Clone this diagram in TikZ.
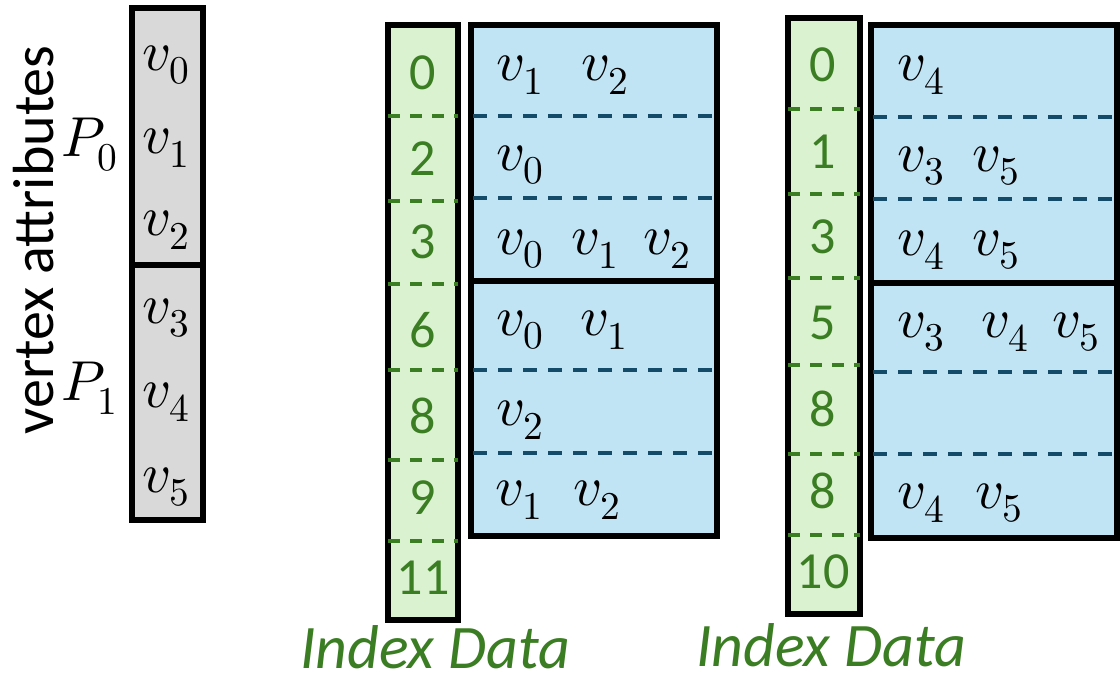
\documentclass[tikz,border=0pt]{standalone}
\usepackage{fontspec}
\usepackage{unicode-math}
\setmainfont{Carlito}
\usepackage{tikz}

\definecolor{cinza}{HTML}{D9D9D9}
\definecolor{verdeF}{HTML}{DAF2D0}
\definecolor{verdeT}{HTML}{3B7D23}
\definecolor{azulF}{HTML}{C1E4F5}
\definecolor{azulT}{HTML}{144B69}

\begin{document}
\begin{tikzpicture}[x=0.01cm, y=-0.01cm]
\tikzset{ inner sep=0pt, outer sep=0pt,
  caixa/.style={draw=black, line width=1.7pt},
  vv/.style={font=\fontsize{16}{18}\selectfont},
  num/.style={text=verdeT, font=\fontsize{14.8}{16}\selectfont},
  tracoV/.style={verdeT, line width=1.3pt, dash pattern=on 0.12cm off 0.1cm},
  tracoA/.style={azulT, line width=1.3pt, dash pattern=on 0.14cm off 0.11cm},
  rotulo/.style={text=verdeT, font=\itshape\fontsize{17.6}{19}\selectfont},
}

\useasboundingbox (0,0) rectangle (1120,676);

% atributos dos vertices
\draw [caixa, fill=cinza] (132,8)   rectangle (203,265);
\draw [caixa, fill=cinza] (132,265) rectangle (203,520);

\node [vv] (A0) at (167,65)  {$v_0$};
\node [vv] (A1) at (167,148) {$v_1$};
\node [vv] (A2) at (167,230) {$v_2$};
\node [vv] (A3) at (167,318) {$v_3$};
\node [vv] (A4) at (167,402) {$v_4$};
\node [vv] (A5) at (167,487) {$v_5$};

\node [vv] (P0) at (90,145) {$P_0$};
\node [vv] (P1) at (90,388) {$P_1$};

\node [rotate=90, font=\fontsize{16.5}{18}\selectfont] (VA) at (34,240) {vertex attributes};

% indice 1
\draw [caixa, fill=verdeF] (388,25) rectangle (458,620);
\draw [tracoV] (388,116) -- (458,116);
\draw [tracoV] (388,201) -- (458,201);
\draw [tracoV] (388,284) -- (458,284);
\draw [tracoV] (388,370) -- (458,370);
\draw [tracoV] (388,460) -- (458,460);
\draw [tracoV] (388,541) -- (458,541);

\node [num] (I10) at (423,73)  {0};
\node [num] (I11) at (423,159) {2};
\node [num] (I12) at (423,242) {3};
\node [num] (I13) at (423,330) {6};
\node [num] (I14) at (423,416) {8};
\node [num] (I15) at (423,498) {9};
\node [num] (I16) at (423,578) {11};

% dados 1
\draw [caixa, fill=azulF] (471,25)  rectangle (717,281);
\draw [caixa, fill=azulF] (471,281) rectangle (717,536);
\draw [tracoA] (473,116) -- (717,116);
\draw [tracoA] (473,198) -- (717,198);
\draw [tracoA] (473,370) -- (717,370);
\draw [tracoA] (473,453) -- (717,453);

\node [vv] (D10) at (521,75)  {$v_1$};
\node [vv] (D11) at (606,75)  {$v_2$};
\node [vv] (D12) at (521,165) {$v_0$};
\node [vv] (D13) at (521,249) {$v_0$};
\node [vv] (D14) at (596,249) {$v_1$};
\node [vv] (D15) at (668,249) {$v_2$};
\node [vv] (D16) at (521,330) {$v_0$};
\node [vv] (D17) at (605,330) {$v_1$};
\node [vv] (D18) at (521,420) {$v_2$};
\node [vv] (D19) at (520,500) {$v_1$};
\node [vv] (D1a) at (598,500) {$v_2$};

% indice 2
\draw [caixa, fill=verdeF] (788,18) rectangle (860,614);
\draw [tracoV] (788,109) -- (860,109);
\draw [tracoV] (788,194) -- (860,194);
\draw [tracoV] (788,278) -- (860,278);
\draw [tracoV] (788,365) -- (860,365);
\draw [tracoV] (788,454) -- (860,454);
\draw [tracoV] (788,535) -- (860,535);

\node [num] (I20) at (823,65)  {0};
\node [num] (I21) at (823,152) {1};
\node [num] (I22) at (823,237) {3};
\node [num] (I23) at (823,323) {5};
\node [num] (I24) at (823,409) {8};
\node [num] (I25) at (823,491) {8};
\node [num] (I26) at (823,572) {10};

% dados 2
\draw [caixa, fill=azulF] (871,25)  rectangle (1117,283);
\draw [caixa, fill=azulF] (871,283) rectangle (1117,538);
\draw [tracoA] (873,117) -- (1117,117);
\draw [tracoA] (873,199) -- (1117,199);
\draw [tracoA] (873,372) -- (1117,372);
\draw [tracoA] (873,454) -- (1117,454);

\node [vv] (D20) at (922,75)   {$v_4$};
\node [vv] (D21) at (922,166)  {$v_3$};
\node [vv] (D22) at (997,166)  {$v_5$};
\node [vv] (D23) at (922,250)  {$v_4$};
\node [vv] (D24) at (997,250)  {$v_5$};
\node [vv] (D25) at (922,332)  {$v_3$};
\node [vv] (D26) at (1006,332) {$v_4$};
\node [vv] (D27) at (1077,332) {$v_5$};
\node [vv] (D28) at (922,503)  {$v_4$};
\node [vv] (D29) at (1000,503) {$v_5$};

\node [rotulo] (L1) at (435,647) {Index Data};
\node [rotulo] (L2) at (831,645) {Index Data};

\end{tikzpicture}
\end{document}
